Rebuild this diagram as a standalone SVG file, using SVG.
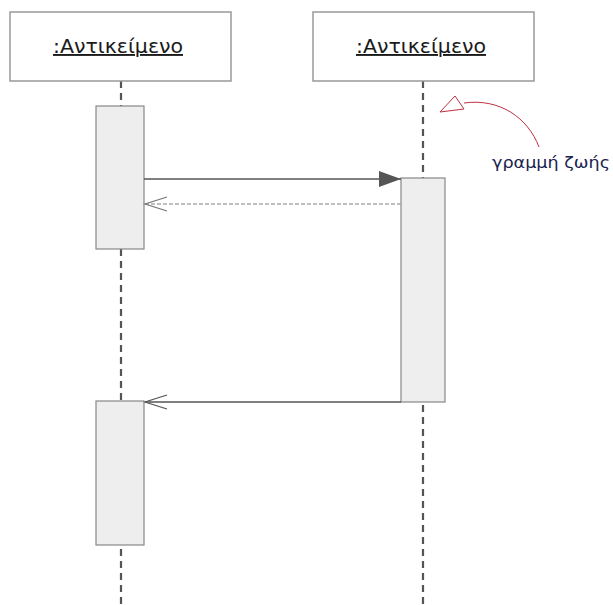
<svg xmlns="http://www.w3.org/2000/svg" width="613" height="605" viewBox="0 0 613 605">
<style>
.obj{fill:#fff;stroke:#999;stroke-width:1.5}
.lbl{font-family:"DejaVu Sans","Liberation Sans",sans-serif;font-size:19px;fill:#1a1a1a;text-decoration:underline}
.life{stroke:#555;stroke-width:2.2;stroke-dasharray:7,5;fill:none}
.act{fill:#eee;stroke:#888;stroke-width:1.2}
.msg{stroke:#555;stroke-width:1.3;fill:none}
.ret{stroke:#aaa;stroke-width:1.5;stroke-dasharray:4,2;fill:none}
.note{font-family:"DejaVu Sans","Liberation Sans",sans-serif;font-size:16px;fill:#1a2250}
</style>
<defs>
<marker id="filled" markerWidth="24" markerHeight="18" refX="22" refY="9" orient="auto" markerUnits="userSpaceOnUse">
<path d="M0,1 L22,9 L0,17 Z" fill="#555"/>
</marker>
</defs>
<g id="lifelines">
<line class="life" x1="121" y1="81" x2="121" y2="605"/>
<line class="life" x1="423" y1="81" x2="423" y2="605"/>
</g>
<g id="obj1">
<rect class="obj" x="10" y="12" width="221" height="69"/>
<text class="lbl" x="53" y="53" textLength="130" lengthAdjust="spacingAndGlyphs">:Αντικείμενο</text>
</g>
<g id="obj2">
<rect class="obj" x="313" y="12" width="221" height="69"/>
<text class="lbl" x="356" y="53" textLength="130" lengthAdjust="spacingAndGlyphs">:Αντικείμενο</text>
</g>
<g id="act1"><rect class="act" x="96" y="106" width="48" height="143"/></g>
<g id="act2"><rect class="act" x="401" y="178" width="44" height="224"/></g>
<g id="act3"><rect class="act" x="96" y="401" width="48" height="144"/></g>
<g id="connectors">
<line class="msg" x1="144" y1="179" x2="401" y2="179" marker-end="url(#filled)"/>
<line class="ret" x1="401" y1="204" x2="145" y2="204"/>
<path d="M167,197 L145,204 L167,211" fill="none" stroke="#777" stroke-width="1.2"/>
<line class="msg" x1="401" y1="402" x2="145" y2="402"/>
<path d="M167,395 L145,402 L167,409" fill="none" stroke="#555" stroke-width="1.2"/>
<path d="M539,147 C528,118 500,98 464,103" fill="none" stroke="#c03040" stroke-width="1"/>
<path d="M464,109 L440,112 L455,96 Z" fill="#fff" stroke="#c03040" stroke-width="1"/>
</g>
<g id="note">
<text class="note" x="492" y="168" textLength="118" lengthAdjust="spacingAndGlyphs">γραμμή ζωής</text>
</g>
</svg>
